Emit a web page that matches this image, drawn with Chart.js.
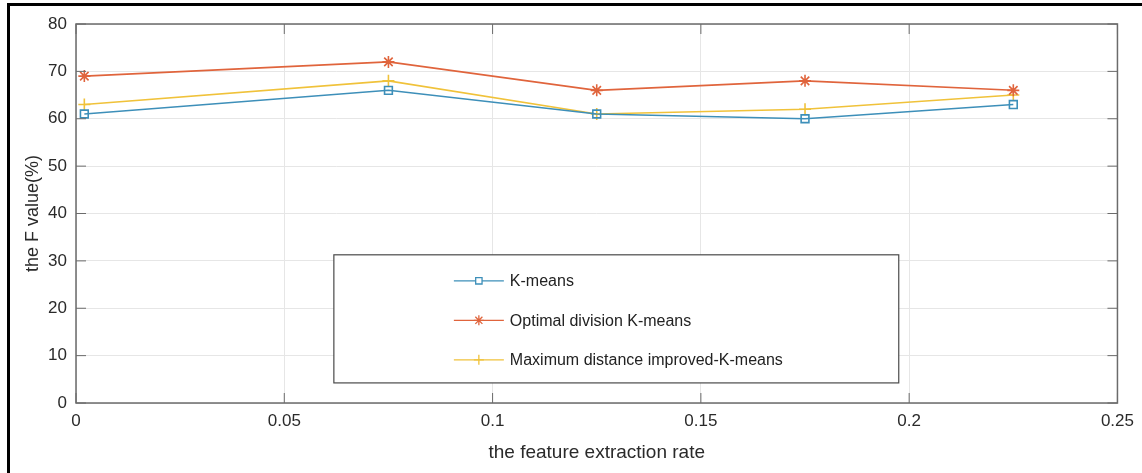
<!DOCTYPE html>
<html>
<head>
<meta charset="utf-8">
<script src="https://cdn.jsdelivr.net/npm/chart.js@4.4.1/dist/chart.umd.min.js"></script>
<style>
  html, body { margin: 0; padding: 0; background: #fff; }
  #marco { position: relative; width: 1142px; height: 473px; overflow: hidden; }
  #borde-izq { position: absolute; left: 7px; top: 3px; width: 3px; height: 480px; background: #000; }
  #borde-sup { position: absolute; left: 7px; top: 3px; width: 1200px; height: 3px; background: #000; }
</style>
</head>
<body>
<div id="marco">
  <canvas id="graficoF" width="1142" height="473"></canvas>
  <div id="borde-izq"></div>
  <div id="borde-sup"></div>
</div>
<script>
// Datos
const tasaExtraccion = [0.002, 0.075, 0.125, 0.175, 0.225];
const kMeans = [61, 66, 61, 60, 63];
const divisionOptima = [69, 72, 66, 68, 66];
const distanciaMaxima = [63, 68, 61, 62, 65];
const nombresSeries = ['K-means', 'Optimal division K-means', 'Maximum distance improved-K-means'];
const ticksX = [0, 0.05, 0.1, 0.15, 0.2, 0.25];
const ticksY = [0, 10, 20, 30, 40, 50, 60, 70, 80];

const fuente = "Arial, 'Liberation Sans', sans-serif";

function puntos(valores) {
  return valores.map((v, i) => ({ x: tasaExtraccion[i], y: v }));
}

// Caja del eje con marcas hacia adentro (estilo MATLAB)
const cajaEjes = {
  id: 'cajaEjes',
  afterDatasetsDraw(chart) {
    const { ctx, chartArea: a, scales } = chart;
    ctx.save();
    ctx.strokeStyle = '#6b6b6b';
    ctx.lineWidth = 1.5;
    ctx.strokeRect(a.left, a.top, a.width, a.height);
    ctx.lineWidth = 1;
    ctx.beginPath();
    ticksX.forEach(v => {
      const x = scales.x.getPixelForValue(v);
      ctx.moveTo(x, a.bottom); ctx.lineTo(x, a.bottom - 10);
      ctx.moveTo(x, a.top); ctx.lineTo(x, a.top + 10);
    });
    ticksY.forEach(v => {
      const y = scales.y.getPixelForValue(v);
      ctx.moveTo(a.left, y); ctx.lineTo(a.left + 10, y);
      ctx.moveTo(a.right, y); ctx.lineTo(a.right - 10, y);
    });
    ctx.stroke();
    ctx.restore();
  }
};

// Leyenda dentro del area del grafico
const leyendaInterna = {
  id: 'leyendaInterna',
  afterDraw(chart) {
    const { ctx, chartArea: a } = chart;
    const x0 = a.left + a.width * 0.2476;
    const x1 = a.left + a.width * 0.79;
    const y0 = a.top + a.height * 0.609;
    const y1 = a.top + a.height * 0.947;
    ctx.save();
    ctx.fillStyle = '#fff';
    ctx.fillRect(x0, y0, x1 - x0, y1 - y0);
    ctx.strokeStyle = '#4a4a4a';
    ctx.lineWidth = 1.2;
    ctx.strokeRect(x0, y0, x1 - x0, y1 - y0);
    chart.data.datasets.forEach((ds, i) => {
      const y = y0 + 26 + i * 39.5;
      ctx.strokeStyle = ds.borderColor;
      ctx.lineWidth = 1.3;
      ctx.beginPath();
      ctx.moveTo(x0 + 120, y);
      ctx.lineTo(x0 + 170, y);
      ctx.stroke();
      Chart.helpers.drawPoint(ctx, {
        pointStyle: ds.pointStyle,
        radius: ds.pointRadius - 1,
        rotation: 0,
        borderWidth: 1.2
      }, x0 + 145, y);
      ctx.fillStyle = '#222';
      ctx.font = '16px ' + fuente;
      ctx.textBaseline = 'middle';
      ctx.textAlign = 'left';
      ctx.fillText(ds.label, x0 + 176, y + 1);
    });
    ctx.restore();
  }
};

const ctx = document.getElementById('graficoF').getContext('2d');
new Chart(ctx, {
  type: 'line',
  data: {
    datasets: [
      {
        label: nombresSeries[0],
        data: puntos(kMeans),
        borderColor: '#3d8fb9',
        backgroundColor: 'rgba(255,255,255,0)',
        pointStyle: 'rect',
        pointRadius: 5.5,
        borderWidth: 1.6
      },
      {
        label: nombresSeries[1],
        data: puntos(divisionOptima),
        borderColor: '#e0643c',
        backgroundColor: 'rgba(255,255,255,0)',
        pointStyle: 'star',
        pointRadius: 6,
        borderWidth: 1.6
      },
      {
        label: nombresSeries[2],
        data: puntos(distanciaMaxima),
        borderColor: '#f0c23a',
        backgroundColor: 'rgba(255,255,255,0)',
        pointStyle: 'cross',
        pointRadius: 6,
        borderWidth: 1.6
      }
    ]
  },
  options: {
    responsive: false,
    animation: false,
    layout: { padding: { left: 0, right: 24, top: 24, bottom: 0 } },
    plugins: {
      legend: { display: false },
      tooltip: { enabled: false }
    },
    scales: {
      x: {
        type: 'linear',
        min: 0,
        max: 0.25,
        afterBuildTicks: s => { s.ticks = ticksX.map(v => ({ value: v })); },
        afterFit: s => { s.height = 70; },
        grid: { color: '#e6e6e6', drawTicks: false },
        border: { display: false },
        ticks: {
          padding: 8,
          color: '#2a2a2a',
          font: { family: fuente, size: 17 },
          maxRotation: 0,
          callback: v => String(+Number(v).toFixed(2))
        },
        title: {
          display: true,
          text: 'the feature extraction rate',
          color: '#2a2a2a',
          font: { family: fuente, size: 19 },
          padding: { top: 0, bottom: 9 }
        }
      },
      y: {
        min: 0,
        max: 80,
        afterBuildTicks: s => { s.ticks = ticksY.map(v => ({ value: v })); },
        afterFit: s => { s.width = 76; },
        grid: { color: '#e6e6e6', drawTicks: false },
        border: { display: false },
        ticks: {
          padding: 9,
          color: '#2a2a2a',
          font: { family: fuente, size: 17 }
        },
        title: {
          display: true,
          text: 'the F value(%)',
          color: '#2a2a2a',
          font: { family: fuente, size: 18 },
          padding: { top: 22, bottom: 0 }
        }
      }
    }
  },
  plugins: [cajaEjes, leyendaInterna]
});
</script>
</body>
</html>
